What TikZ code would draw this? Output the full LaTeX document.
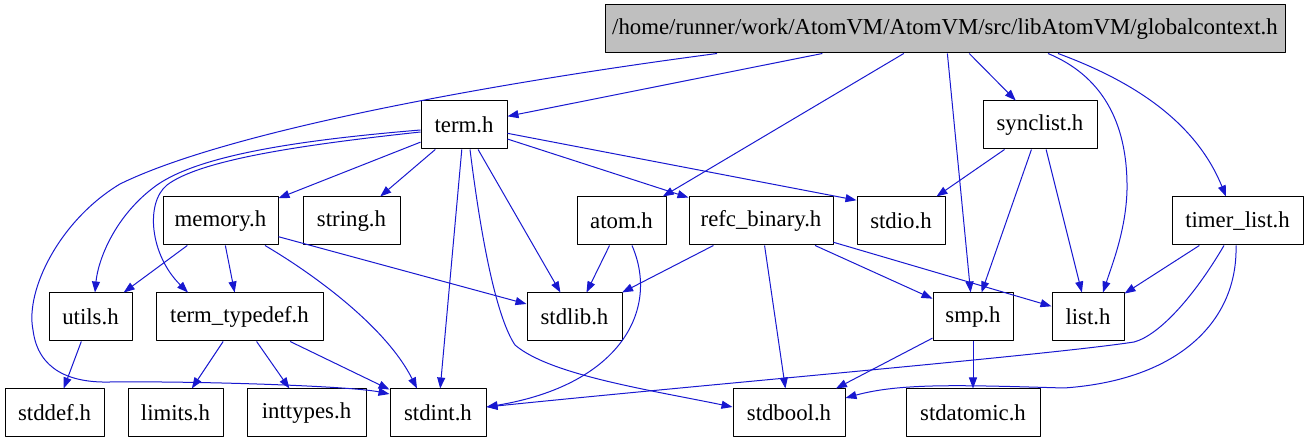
\documentclass[tikz,border=0pt]{standalone}
\usepackage{fontspec}
\setmainfont{Liberation Serif}
\usetikzlibrary{arrows.meta,calc}
\definecolor{edgeblue}{RGB}{24,24,208}
\definecolor{boxgray}{RGB}{191,191,191}
\begin{document}
\begin{tikzpicture}[x=0.5pt, y=-0.5pt, line join=round]
\tikzset{file/.style={draw=black, line width=0.5pt, fill=white, minimum height=24pt, inner sep=0pt, font=\fontsize{11.4}{13.7}\selectfont},
	dep/.style={draw=edgeblue, line width=0.5pt, -{Triangle[length=5.5pt,width=4pt]}}}
\useasboundingbox (0,0) rectangle (1308,443);
\node[file, fill=boxgray, minimum width=340pt] (gc) at (945,29) {/home/runner/work/AtomVM/AtomVM/src/libAtomVM/globalcontext.h};
\foreach \n/\x/\y/\w/\t in {term/464/125/43/term.h, synclist/1040/125/57/synclist.h,
	memory/220.5/221/57.5/memory.h, string/351.5/221/48.5/string.h, atom/621.5/221/44.5/atom.h,
	refc/761/221/72/refc\_binary.h, stdio/901/221/44/stdio.h, timer/1237.5/221/65.5/timer\_list.h,
	utils/90.5/317/41.5/utils.h, termtypedef/239.5/317/83.5/term\_typedef.h, stdlib/574.5/317/47.5/stdlib.h,
	smp/973/317/40/smp.h, list/1088/317/36/list.h,
	stddef/54.5/413/49.5/stddef.h, limits/175.5/413/47.5/limits.h, inttypes/306.5/413/59.5/inttypes.h,
	stdint/438/413/48/stdint.h, stdbool/789/413/56/stdbool.h, stdatomic/973/413/67/stdatomic.h}
	\node[file, minimum width=\w pt] (\n) at (\x,\y) {\t};
\foreach \a/\b in {gc/term, gc/atom, gc/smp, gc/synclist, term/memory, term/string, term/stdint,
	term/stdlib, term/refc, synclist/stdio, synclist/smp, synclist/list, memory/utils, memory/termtypedef,
	memory/stdlib, atom/stdlib, refc/stdlib, refc/stdbool, refc/smp, refc/list, timer/list, utils/stddef,
	termtypedef/limits, termtypedef/inttypes, termtypedef/stdint, smp/stdbool, smp/stdatomic}
	\draw[dep] (\a) -- (\b);
\draw[dep] (term) -- (stdio.155);
\draw[dep] ($(gc.south)+(-228,0)$) .. controls (500,82) and (230,130) .. (120,184)
	.. controls (60,220) and (25,290) .. (33,330) .. controls (38,370) and (70,383) .. (110,382)
	.. controls (200,381) and (350,386) .. ($(stdint.west)+(0,-19)$);
\draw[dep] ($(gc.south)+(103,0)$) .. controls (1100,75) and (1128,120) .. (1127,190)
	.. controls (1126,230) and (1112,265) .. ($(list.north)+(15,0)$);
\draw[dep] ($(gc.south)+(113,0)$) .. controls (1130,80) and (1195,120) .. ($(timer.north)+(-11.5,0)$);
\draw[dep] ($(term.west)+(0,5)$) .. controls (300,140) and (200,155) .. (157,185)
	.. controls (115,215) and (98,260) .. ($(utils.north)+(4.5,0)$);
\draw[dep] ($(term.west)+(0,7)$) .. controls (300,145) and (200,160) .. (167,185)
	.. controls (145,203) and (150,255) .. ($(termtypedef.north)+(-51.5,0)$);
\draw[dep] ($(term.south)+(6,0)$) .. controls (480,230) and (495,315) .. (515,345)
	.. controls (550,375) and (650,390) .. ($(stdbool.west)+(0,-6)$);
\draw[dep] ($(memory.south)+(44.5,0)$) .. controls (310,272) and (385,325) .. ($(stdint.north)+(-21,0)$);
\draw[dep] ($(atom.south)+(10.5,0)$) .. controls (660,310) and (620,385) .. ($(stdint.east)+(0,-6)$);
\draw[dep] ($(timer.south)+(-13.5,0)$) .. controls (1195,295) and (1160,335) .. (1134,342)
	.. controls (1050,355) and (700,385) .. ($(stdint.east)+(0,-6)$);
\draw[dep] ($(timer.south)+(-1.5,0)$) .. controls (1238,320) and (1180,380) .. (1064,388)
	.. controls (960,385) and (900,383) .. ($(stdbool.east)+(0,-15)$);
\end{tikzpicture}
\end{document}
